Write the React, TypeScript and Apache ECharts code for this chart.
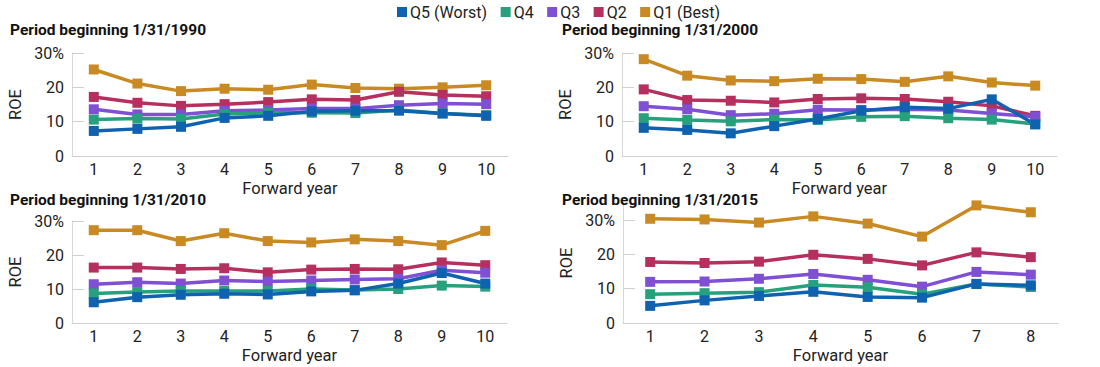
import React, { useEffect, useRef } from "react";
import * as echarts from "echarts";

const seriesNames = ["Q5 (Worst)", "Q4", "Q3", "Q2", "Q1 (Best)"];
const seriesColors = ["#0f62b0", "#27a07d", "#7f4fd4", "#b5305f", "#c98a24"];

const years10 = ["1", "2", "3", "4", "5", "6", "7", "8", "9", "10"];
const years8 = ["1", "2", "3", "4", "5", "6", "7", "8"];

const panelTitles = [
  "Period beginning 1/31/1990",
  "Period beginning 1/31/2000",
  "Period beginning 1/31/2010",
  "Period beginning 1/31/2015",
];

// Panel 1990 (order Q5, Q4, Q3, Q2, Q1)
const p1990Q5 = [7.3, 7.9, 8.5, 11.1, 11.7, 13.0, 13.2, 13.2, 12.4, 11.7];
const p1990Q4 = [10.6, 10.9, 10.8, 12.2, 12.6, 12.6, 12.5, 13.4, 12.4, 11.9];
const p1990Q3 = [13.6, 12.1, 12.1, 13.2, 13.4, 13.8, 13.8, 14.8, 15.3, 15.1];
const p1990Q2 = [17.2, 15.5, 14.6, 15.1, 15.7, 16.5, 16.3, 18.7, 17.8, 17.4];
const p1990Q1 = [25.2, 21.1, 18.9, 19.6, 19.3, 20.8, 19.8, 19.6, 20.0, 20.6];

// Panel 2000
const p2000Q5 = [8.2, 7.6, 6.6, 8.7, 10.8, 13.2, 14.2, 13.8, 16.5, 9.2];
const p2000Q4 = [11.0, 10.5, 10.1, 10.6, 10.5, 11.4, 11.6, 11.0, 10.6, 9.3];
const p2000Q3 = [14.5, 13.6, 11.9, 12.3, 13.5, 13.4, 13.6, 13.4, 12.4, 11.4];
const p2000Q2 = [19.4, 16.3, 16.1, 15.6, 16.6, 16.8, 16.6, 15.8, 14.6, 11.7];
const p2000Q1 = [28.2, 23.4, 22.0, 21.8, 22.5, 22.4, 21.6, 23.2, 21.4, 20.5];

// Panel 2010
const p2010Q5 = [6.1, 7.6, 8.3, 8.6, 8.4, 9.3, 9.6, 11.6, 14.7, 11.6];
const p2010Q4 = [8.7, 9.1, 9.4, 9.4, 9.4, 10.0, 9.7, 10.0, 11.0, 10.7];
const p2010Q3 = [11.4, 12.0, 11.6, 12.5, 12.2, 12.5, 12.8, 13.0, 15.5, 14.8];
const p2010Q2 = [16.3, 16.3, 15.9, 16.1, 14.9, 15.7, 15.9, 15.8, 17.8, 17.0];
const p2010Q1 = [27.3, 27.3, 24.1, 26.4, 24.1, 23.7, 24.6, 24.1, 22.9, 27.1];

// Panel 2015
const p2015Q5 = [5.0, 6.6, 7.9, 9.1, 7.6, 7.4, 11.4, 11.0];
const p2015Q4 = [8.4, 8.7, 9.0, 11.1, 10.4, 8.4, 11.4, 10.5];
const p2015Q3 = [12.0, 12.1, 12.9, 14.3, 12.6, 10.6, 14.9, 14.1];
const p2015Q2 = [17.8, 17.5, 17.9, 19.9, 18.7, 16.8, 20.6, 19.2];
const p2015Q1 = [30.4, 30.2, 29.3, 31.1, 29.0, 25.2, 34.3, 32.3];

const yTicks = [0, 10, 20, 30];

export default function App() {
  const ref = useRef<HTMLDivElement>(null);

  useEffect(() => {
    if (!ref.current) return;
    const chart = echarts.init(ref.current, undefined, { renderer: "svg" });

    const panels = [
      { cats: years10, data: [p1990Q5, p1990Q4, p1990Q3, p1990Q2, p1990Q1], max: 30 },
      { cats: years10, data: [p2000Q5, p2000Q4, p2000Q3, p2000Q2, p2000Q1], max: 30 },
      { cats: years10, data: [p2010Q5, p2010Q4, p2010Q3, p2010Q2, p2010Q1], max: 30 },
      { cats: years8, data: [p2015Q5, p2015Q4, p2015Q3, p2015Q2, p2015Q1], max: 35 },
    ];

    const grids = [
      { left: 72, top: 53, width: 436, height: 103 },
      { left: 622, top: 53, width: 435, height: 103 },
      { left: 72, top: 221, width: 435, height: 102 },
      { left: 623, top: 203, width: 435, height: 120 },
    ];

    const titlePos = [
      { left: 10, top: 22 },
      { left: 562, top: 22 },
      { left: 10, top: 192 },
      { left: 562, top: 192 },
    ];

    const font = "Roboto, 'Noto Sans', sans-serif";
    const textColor = "#222";

    const xAxes = panels.map((p, i) => ({
      type: "category",
      gridIndex: i,
      data: p.cats,
      boundaryGap: true,
      axisLine: { show: true, lineStyle: { color: "#cfcfcf", width: 1 } },
      axisTick: { show: false },
      axisLabel: { color: textColor, fontSize: 16, fontFamily: font, margin: 5 },
      name: "Forward year",
      nameLocation: "middle",
      nameGap: 24,
      nameTextStyle: { color: textColor, fontSize: 16.5, fontFamily: font },
    }));

    const yAxes = panels.map((p, i) => ({
      type: "value",
      gridIndex: i,
      min: 0,
      max: p.max,
      interval: 10,
      splitLine: { show: false },
      axisLine: { show: true, lineStyle: { color: "#d8d8d8", width: 1 } },
      axisTick: {
        show: true,
        inside: true,
        length: 12,
        lineStyle: { color: "#cfcfcf" },
        customValues: yTicks,
      },
      axisLabel: {
        color: textColor,
        fontSize: 16,
        fontFamily: font,
        margin: 8,
        customValues: yTicks,
        formatter: (v: number) => (v === 30 ? "30%" : String(v)),
      },
      name: "ROE",
      nameLocation: "middle",
      nameGap: 48,
      nameTextStyle: { color: textColor, fontSize: 16.5, fontFamily: font },
    }));

    const series: any[] = [];
    panels.forEach((p, i) => {
      // draw Q1 first so Q5 is on top
      for (let k = 4; k >= 0; k--) {
        series.push({
          name: seriesNames[k],
          type: "line",
          xAxisIndex: i,
          yAxisIndex: i,
          data: p.data[k],
          symbol: "rect",
          symbolSize: 10,
          showSymbol: true,
          color: seriesColors[k],
          lineStyle: { width: 3.5, color: seriesColors[k] },
          itemStyle: { color: seriesColors[k] },
          emphasis: { disabled: true },
        });
      }
    });

    chart.setOption({
      animation: false,
      textStyle: { fontFamily: font },
      title: panelTitles.map((t, i) => ({
        text: t,
        left: titlePos[i].left,
        top: titlePos[i].top,
        padding: 0,
        textStyle: { fontSize: 15.5, fontWeight: "bold", color: "#111", fontFamily: font },
      })),
      legend: {
        data: seriesNames,
        left: 397,
        top: 4,
        padding: 0,
        itemWidth: 10,
        itemHeight: 10,
        itemGap: 13.5,
        icon: "rect",
        textStyle: { fontSize: 16, color: textColor, fontFamily: font, padding: [0, 0, 0, -2] },
      },
      grid: grids,
      xAxis: xAxes,
      yAxis: yAxes,
      series,
    });

    return () => chart.dispose();
  }, []);

  return (
    <div
      ref={ref}
      style={{ position: "absolute", left: 0, top: 0, width: 1100, height: 367 }}
    />
  );
}
